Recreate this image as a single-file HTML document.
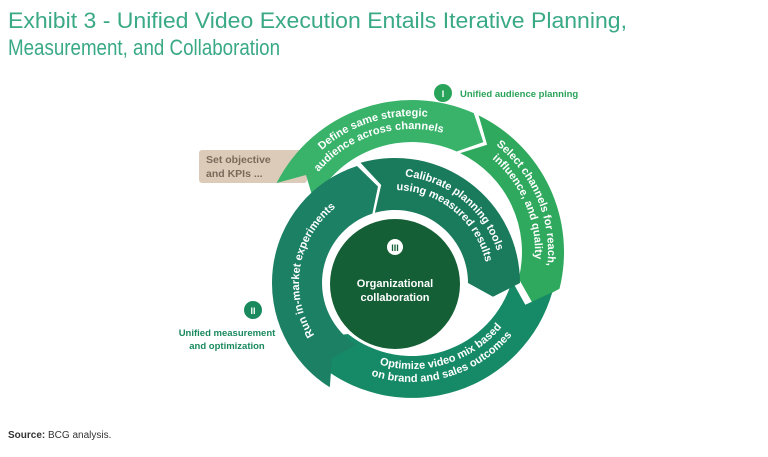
<!DOCTYPE html>
<html><head><meta charset="utf-8"><style>
body{margin:0;background:#fff;width:768px;height:452px;overflow:hidden;font-family:"Liberation Sans",sans-serif}
</style></head><body>
<svg width="768" height="452" viewBox="0 0 768 452" xmlns="http://www.w3.org/2000/svg" font-family="Liberation Sans, sans-serif">
<text x="8" y="28" font-size="22" fill="#3aa986" textLength="619" lengthAdjust="spacingAndGlyphs">Exhibit 3 - Unified Video Execution Entails Iterative Planning,</text>
<text x="8" y="55" font-size="22" fill="#3aa986" textLength="272" lengthAdjust="spacingAndGlyphs">Measurement, and Collaboration</text>

<rect x="199" y="150" width="108" height="33" rx="3" fill="#dccbb9"/>
<text x="206" y="163" font-size="10.5" font-weight="bold" fill="#7b6a5a">Set objective</text>
<text x="206" y="177" font-size="10.5" font-weight="bold" fill="#7b6a5a">and KPIs ...</text>

<path id="s1" fill="#39b36a"/>
<path id="s2" fill="#2fa95d"/>
<path id="s3" fill="#168a66"/>
<path id="s4" fill="#1c8064"/>
<path id="s5" fill="#1a7a5c"/>
<circle cx="395" cy="284" r="65" fill="#155f36"/>

<path id="t1a" fill="none"/><path id="t1b" fill="none"/>
<path id="t2a" fill="none"/><path id="t2b" fill="none"/>
<path id="t3a" fill="none"/><path id="t3b" fill="none"/>
<path id="t4" fill="none"/>
<path id="t5a" fill="none"/><path id="t5b" fill="none"/>

<g font-size="11" font-weight="bold" fill="#fff" text-anchor="middle">
<text><textPath href="#t1a" startOffset="50%">Define same strategic</textPath></text>
<text><textPath href="#t1b" startOffset="50%">audience across channels</textPath></text>
<text><textPath href="#t2a" startOffset="50%">Select channels for reach,</textPath></text>
<text><textPath href="#t2b" startOffset="50%">influence, and quality</textPath></text>
<text><textPath href="#t3a" startOffset="50%">Optimize video mix based</textPath></text>
<text><textPath href="#t3b" startOffset="50%">on brand and sales outcomes</textPath></text>
<text><textPath href="#t4" startOffset="50%">Run in-market experiments</textPath></text>
<text><textPath href="#t5a" startOffset="50%">Calibrate planning tools</textPath></text>
<text><textPath href="#t5b" startOffset="50%">using measured results</textPath></text>
</g>

<circle cx="395" cy="247" r="8" fill="#fff"/>
<text x="395" y="251" font-size="9" font-weight="bold" fill="#155f36" text-anchor="middle">III</text>
<text x="395" y="287" font-size="11" font-weight="bold" fill="#fff" text-anchor="middle">Organizational</text>
<text x="395" y="301" font-size="11" font-weight="bold" fill="#fff" text-anchor="middle">collaboration</text>

<circle cx="443" cy="93" r="9" fill="#2aa35a"/>
<text x="443" y="97" font-size="9" font-weight="bold" fill="#fff" text-anchor="middle">I</text>
<text x="460" y="97" font-size="9.5" font-weight="bold" fill="#2aa35a">Unified audience planning</text>

<circle cx="253" cy="310" r="9" fill="#1a8a5e"/>
<text x="253" y="314" font-size="9" font-weight="bold" fill="#fff" text-anchor="middle">II</text>
<text x="227" y="336" font-size="9.5" font-weight="bold" fill="#1a8a5e" text-anchor="middle">Unified measurement</text>
<text x="227" y="349" font-size="9.5" font-weight="bold" fill="#1a8a5e" text-anchor="middle">and optimization</text>

<text x="8" y="438" font-size="10" fill="#333"><tspan font-weight="bold">Source:</tspan> BCG analysis.</text>
</svg>
<script>
function P(cx,cy,r,a){a=a*Math.PI/180;return [cx+r*Math.cos(a),cy+r*Math.sin(a)];}
function f(p){return p[0].toFixed(1)+','+p[1].toFixed(1);}
function seg(cx,cy,ri,ro,a0,a1,t){
 var rm=(ri+ro)/2,lg=(a1-a0)>180?1:0;
 var d='M'+f(P(cx,cy,ro,a0))+' L'+f(P(cx,cy,rm,a0+t))+' L'+f(P(cx,cy,ri,a0));
 d+=' A'+ri+','+ri+' 0 '+lg+' 1 '+f(P(cx,cy,ri,a1));
 d+=' L'+f(P(cx,cy,rm,a1+t))+' L'+f(P(cx,cy,ro,a1));
 d+=' A'+ro+','+ro+' 0 '+lg+' 0 '+f(P(cx,cy,ro,a0))+'Z';return d;}
function arc(cx,cy,r,a0,a1){var lg=Math.abs(a1-a0)>180?1:0,sw=a1>a0?1:0;
 return 'M'+f(P(cx,cy,r,a0))+' A'+r+','+r+' 0 '+lg+' '+sw+' '+f(P(cx,cy,r,a1));}
function s(id,d){document.getElementById(id).setAttribute('d',d);}
var ox=412,oy=252;
s('s1',seg(ox,oy,110,152,-153,-66,9));
s('s2',seg(ox,oy,110,152,-64,14,9));
s('s3',seg(ox,oy,104,146,16,128,9));
var ix=395,iy=283;
s('s4',seg(ix,iy,73,123,122,252,8));
s('s5',seg(ix,iy,73,125,254,360,8));
s('t1a',arc(ox,oy,136,-147,-68));
s('t1b',arc(ox,oy,123,-147,-68));
s('t2a',arc(ox,oy,136,-62,16));
s('t2b',arc(ox,oy,123,-62,16));
s('t3a',arc(ox,oy,117,126,20));
s('t3b',arc(ox,oy,130,130,18));
s('t4',arc(ix,iy,96,125,254));
s('t5a',arc(ix,iy,107,256,362));
s('t5b',arc(ix,iy,93,256,362));
</script>
</body></html>
